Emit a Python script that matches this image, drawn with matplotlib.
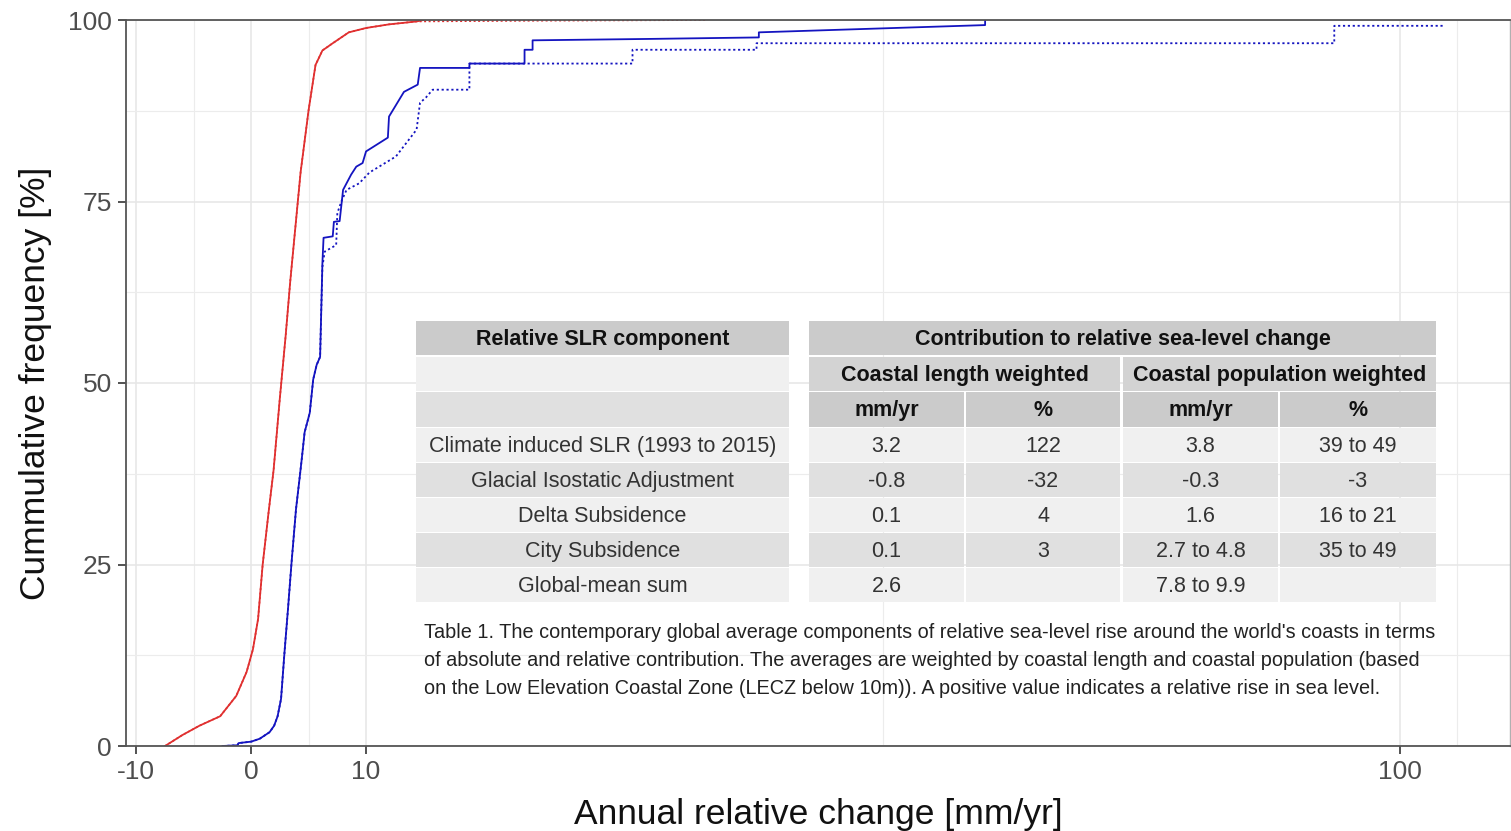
import matplotlib

matplotlib.use("Agg")
import matplotlib.pyplot as plt
from matplotlib.patches import Rectangle

plt.rcParams["font.family"] = ["Liberation Sans", "DejaVu Sans"]
plt.rcParams["axes.unicode_minus"] = False

# cumulative distributions: x in mm/yr, y in %
red_len_x = [-7.5, -6.0, -4.5, -2.7, -1.3, -0.4, 0.15, 0.6, 1.0, 1.5, 1.95, 2.5,
             3.0, 3.4, 4.0, 4.3, 5.0, 5.6, 6.2, 7.1, 8.5, 10.0, 12.0, 14.4, 15.0]
red_len_y = [0.0, 1.5, 2.8, 4.1, 6.9, 10.2, 13.3, 17.5, 25.0, 32.0, 38.0, 48.0,
             56.5, 64.0, 74.0, 79.0, 87.6, 93.8, 95.8, 96.8, 98.3, 98.9, 99.4, 99.8, 100.0]

red_pop_x = red_len_x[:-1] + [25.0, 39.7]
red_pop_y = red_len_y[:-1] + [99.9, 100.0]

blue_len_x = [-2.5, -1.2, -1.1, 0.0, 0.74, 1.6, 2.0, 2.3, 2.6, 2.9, 3.2, 3.5, 3.9, 4.2,
              4.4, 4.65, 5.1, 5.4, 5.7, 6.0, 6.1, 6.2, 6.3, 7.1, 7.2, 7.7, 8.0,
              8.7, 9.15, 9.7, 10.0, 11.2, 11.9, 12.0, 13.3, 14.5, 14.7, 19.0, 19.0,
              23.8, 23.8, 24.5, 24.5, 35.0, 44.2, 44.2, 63.9, 63.9]
blue_len_y = [0.0, 0.1, 0.4, 0.6, 1.0, 1.9, 2.8, 4.1, 6.5, 12.9, 18.8, 25.0, 32.6, 36.7,
              39.5, 43.2, 45.9, 50.5, 52.5, 53.6, 60.0, 66.5, 70.0, 70.2, 72.2, 72.3, 76.6,
              78.7, 79.8, 80.3, 81.9, 83.1, 83.8, 86.7, 90.1, 91.1, 93.4, 93.4, 94.0,
              94.0, 95.9, 95.9, 97.2, 97.4, 97.6, 98.3, 99.3, 100.0]

blue_pop_x = [-2.5, -1.2, -1.1, 0.0, 0.74, 1.6, 2.0, 2.3, 2.6, 2.9, 3.2, 3.5, 3.9, 4.2,
              4.4, 4.65, 5.1, 5.4, 5.7, 6.0, 6.1, 6.2, 6.4, 7.4, 7.5, 7.85, 8.3,
              9.4, 10.3, 12.6, 14.4, 14.7, 15.2, 15.8, 19.0, 19.0, 33.2, 33.2,
              44.0, 44.0, 94.3, 94.3, 103.8]
blue_pop_y = [0.0, 0.1, 0.4, 0.6, 1.0, 1.9, 2.8, 4.1, 6.5, 12.9, 18.8, 25.0, 32.6, 36.7,
              39.5, 43.2, 45.9, 50.5, 52.5, 53.6, 60.0, 66.0, 68.1, 69.0, 73.4, 75.0, 76.6,
              77.5, 79.0, 81.2, 84.9, 88.6, 89.3, 90.4, 90.4, 94.0, 94.0, 95.9,
              95.9, 96.8, 96.8, 99.2, 99.2]

x_ticks = [-10, 0, 10, 100]
x_minor = [-5, 5, 55, 105]
y_ticks = [0, 25, 50, 75, 100]
y_minor = [12.5, 37.5, 62.5, 87.5]

# table contents
row_labels = ["Climate induced SLR (1993 to 2015)", "Glacial Isostatic Adjustment",
              "Delta Subsidence", "City Subsidence", "Global-mean sum"]
len_mm = ["3.2", "-0.8", "0.1", "0.1", "2.6"]
len_pct = ["122", "-32", "4", "3", ""]
pop_mm = ["3.8", "-0.3", "1.6", "2.7 to 4.8", "7.8 to 9.9"]
pop_pct = ["39 to 49", "-3", "16 to 21", "35 to 49", ""]
caption = [
    "Table 1. The contemporary global average components of relative sea-level rise around the world's coasts in terms",
    "of absolute and relative contribution. The averages are weighted by coastal length and coastal population (based",
    "on the Low Elevation Coastal Zone (LECZ below 10m)). A positive value indicates a relative rise in sea level.",
]

W, H = 1511, 831
fig = plt.figure(figsize=(W / 100, H / 100), dpi=100)
ax = fig.add_axes([126 / W, 1 - 746 / H, (1510 - 126) / W, (746 - 20) / H])

ax.plot(red_pop_x, red_pop_y, color="#e03030", lw=1.2, ls=(0, (1.2, 1.5)))
ax.plot(red_len_x, red_len_y, color="#e03030", lw=1.3)
ax.plot(blue_pop_x, blue_pop_y, color="#1414c0", lw=1.3, ls=(0, (1.2, 1.5)))
ax.plot(blue_len_x, blue_len_y, color="#1414c0", lw=1.3)

ax.set_xlim(-10.9, 109.6)
ax.set_ylim(0, 100)
ax.set_xticks(x_ticks)
ax.set_xticks(x_minor, minor=True)
ax.set_yticks(y_ticks)
ax.set_yticks(y_minor, minor=True)
ax.grid(which="major", color="#e6e6e6", lw=1.1)
ax.grid(which="minor", color="#ececec", lw=0.8)
ax.set_axisbelow(True)
ax.tick_params(which="major", length=6, width=1.3, color="#444444",
               labelsize=19, labelcolor="#4d4d4d", pad=4)
ax.tick_params(which="minor", length=0)

for side in ["left", "bottom", "top"]:
    ax.spines[side].set_color("#555555")
    ax.spines[side].set_linewidth(1.3)
ax.spines["right"].set_color("#b0b0b0")
ax.spines["right"].set_linewidth(1.0)

ax.set_xlabel("Annual relative change [mm/yr]", fontsize=25.5, color="#111111", labelpad=10)
ax.set_ylabel("Cummulative frequency [%]", fontsize=25.5, color="#111111", labelpad=12)


def fx(px):
    return px / W


def fy(py):
    return 1 - py / H


def cell(x0, x1, y0, y1, color, text="", bold=False):
    fig.add_artist(Rectangle((fx(x0), fy(y1)), fx(x1) - fx(x0), fy(y0) - fy(y1),
                             transform=fig.transFigure, facecolor=color,
                             edgecolor="none", zorder=3))
    if text:
        fig.text(fx((x0 + x1) / 2), fy((y0 + y1) / 2 + 1.5), text, ha="center", va="center",
                 fontsize=15.5, fontweight="bold" if bold else "normal",
                 color="#111111" if bold else "#333333", zorder=4)


hdr = "#cbcbcb"
light = "#f0f0f0"
mid = "#e0e0e0"
rows = [(321, 355), (357, 391), (392, 427), (428, 462), (463, 497),
        (498, 532), (533, 567), (568, 602)]
left = (416, 789)
cols = [(809, 964), (966, 1120), (1123, 1278), (1280, 1436)]

cell(left[0], left[1], *rows[0], hdr, "Relative SLR component", True)
cell(cols[0][0], cols[3][1], *rows[0], hdr, "Contribution to relative sea-level change", True)
cell(left[0], left[1], *rows[1], light)
cell(cols[0][0], cols[1][1], *rows[1], "#d3d3d3", "Coastal length weighted", True)
cell(cols[2][0], cols[3][1], *rows[1], "#d3d3d3", "Coastal population weighted", True)
cell(left[0], left[1], *rows[2], mid)
for (c0, c1), lab in zip(cols, ["mm/yr", "%", "mm/yr", "%"]):
    cell(c0, c1, *rows[2], hdr, lab, True)

for i, lab in enumerate(row_labels):
    r0, r1 = rows[3 + i]
    bg = light if i % 2 == 0 else mid
    cell(left[0], left[1], r0, r1, bg, lab)
    for (c0, c1), val in zip(cols, [len_mm[i], len_pct[i], pop_mm[i], pop_pct[i]]):
        cell(c0, c1, r0, r1, bg, val)

for k, line in enumerate(caption):
    fig.text(fx(424), fy(633 + 28 * k), line, ha="left", va="center",
             fontsize=14.3, color="#222222")

fig.savefig("out.png", dpi=100)
